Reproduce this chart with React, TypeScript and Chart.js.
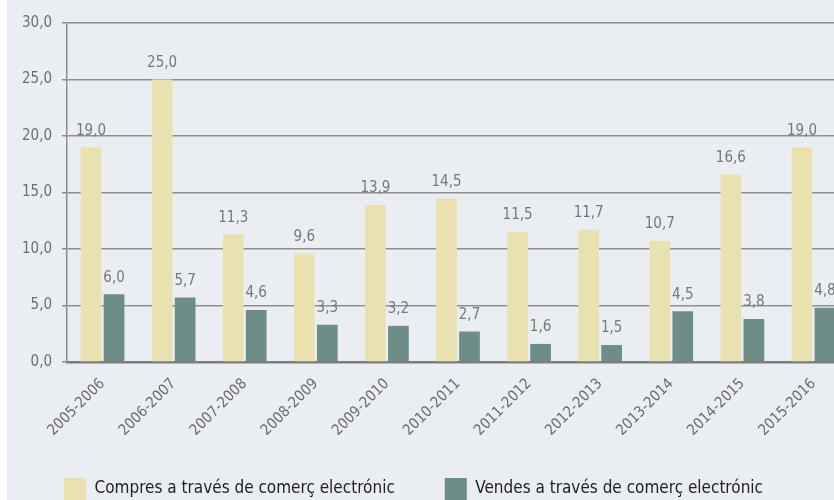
import React, { useEffect, useRef } from "react";
import { Chart, registerables } from "chart.js";

Chart.register(...registerables);

const categories = [
  "2005-2006", "2006-2007", "2007-2008", "2008-2009", "2009-2010", "2010-2011",
  "2011-2012", "2012-2013", "2013-2014", "2014-2015", "2015-2016",
];
const compres = [19.0, 25.0, 11.3, 9.6, 13.9, 14.5, 11.5, 11.7, 10.7, 16.6, 19.0];
const vendes = [6.0, 5.7, 4.6, 3.3, 3.2, 2.7, 1.6, 1.5, 4.5, 3.8, 4.8];
const seriesNames = [
  "Compres a través de comerç electrónic",
  "Vendes a través de comerç electrónic",
];
const yTicks = { min: 0, max: 30, step: 5 };

const fmt = (v: number) => v.toFixed(1).replace(".", ",");
const TICK_FONT = "'DejaVu Sans Condensed', 'DejaVu Sans', sans-serif";

const valueLabels = {
  id: "valueLabels",
  afterDatasetsDraw(chart: any) {
    const ctx = chart.ctx;
    ctx.save();
    ctx.font = `15px ${TICK_FONT}`;
    ctx.fillStyle = "#777777";
    ctx.textAlign = "center";
    ctx.textBaseline = "bottom";
    chart.data.datasets.forEach((ds: any, di: number) => {
      const meta = chart.getDatasetMeta(di);
      meta.data.forEach((el: any, i: number) => {
        ctx.fillText(fmt(ds.data[i]), el.x, el.y - 9);
      });
    });
    ctx.restore();
  },
};

// Pull the legend up a little so it sits just under the rotated labels
const legendShift = {
  id: "legendShift",
  afterLayout(chart: any) {
    const l = chart.legend;
    if (l) {
      l.top -= 24;
      l.bottom -= 24;
      l.left -= 3;
      l.right -= 3;
    }
  },
};

export default function App() {
  const ref = useRef<HTMLCanvasElement>(null);
  useEffect(() => {
    if (!ref.current) return;
    const chart = new Chart(ref.current, {
      type: "bar",
      data: {
        labels: categories,
        datasets: [
          {
            label: seriesNames[0],
            data: compres,
            backgroundColor: "#E9E1B0",
            categoryPercentage: 0.647,
            barPercentage: 0.9,
          },
          {
            label: seriesNames[1],
            data: vendes,
            backgroundColor: "#6F8D87",
            categoryPercentage: 0.647,
            barPercentage: 0.9,
          },
        ],
      },
      options: {
        responsive: false,
        animation: false,
        layout: { padding: { top: 23, left: 0, right: 0, bottom: 0 } },
        plugins: {
          tooltip: { enabled: false },
          legend: {
            position: "bottom",
            maxHeight: 400,
            labels: {
              boxWidth: 22,
              boxHeight: 22,
              padding: 50,
              color: "#222222",
              font: { family: TICK_FONT, size: 17 },
            },
          },
        },
        scales: {
          x: {
            grid: { display: false },
            border: { display: true, color: "#7d7d7d", width: 2.5 },
            ticks: {
              color: "#6d6d6d",
              font: { family: TICK_FONT, size: 15 },
              maxRotation: 45,
              minRotation: 45,
              padding: 5,
            },
            afterFit: (s: any) => {
              s.height = 90;
            },
          },
          y: {
            min: yTicks.min,
            max: yTicks.max,
            grid: { color: "#8e8e8e", lineWidth: 1.5, tickLength: 5 },
            border: { display: true, color: "#8e8e8e", width: 1.5 },
            ticks: {
              stepSize: yTicks.step,
              color: "#6d6d6d",
              font: { family: TICK_FONT, size: 15 },
              padding: 10,
              callback: (v: any) => fmt(Number(v)),
            },
            afterFit: (s: any) => {
              s.width = 83;
            },
          },
        },
      },
      plugins: [valueLabels, legendShift],
    });
    return () => chart.destroy();
  }, []);

  return (
    <div
      style={{
        position: "fixed",
        left: 0,
        top: 0,
        width: 834,
        height: 500,
        overflow: "hidden",
        background: "#ffffff",
      }}
    >
      <div
        style={{
          position: "absolute",
          left: 7,
          top: 0,
          right: 0,
          bottom: 0,
          background: "#EAEEF2",
        }}
      />
      <canvas
        ref={ref}
        width={865}
        height={534}
        style={{ position: "absolute", left: -16, top: 0, width: 865, height: 534 }}
      />
    </div>
  );
}
